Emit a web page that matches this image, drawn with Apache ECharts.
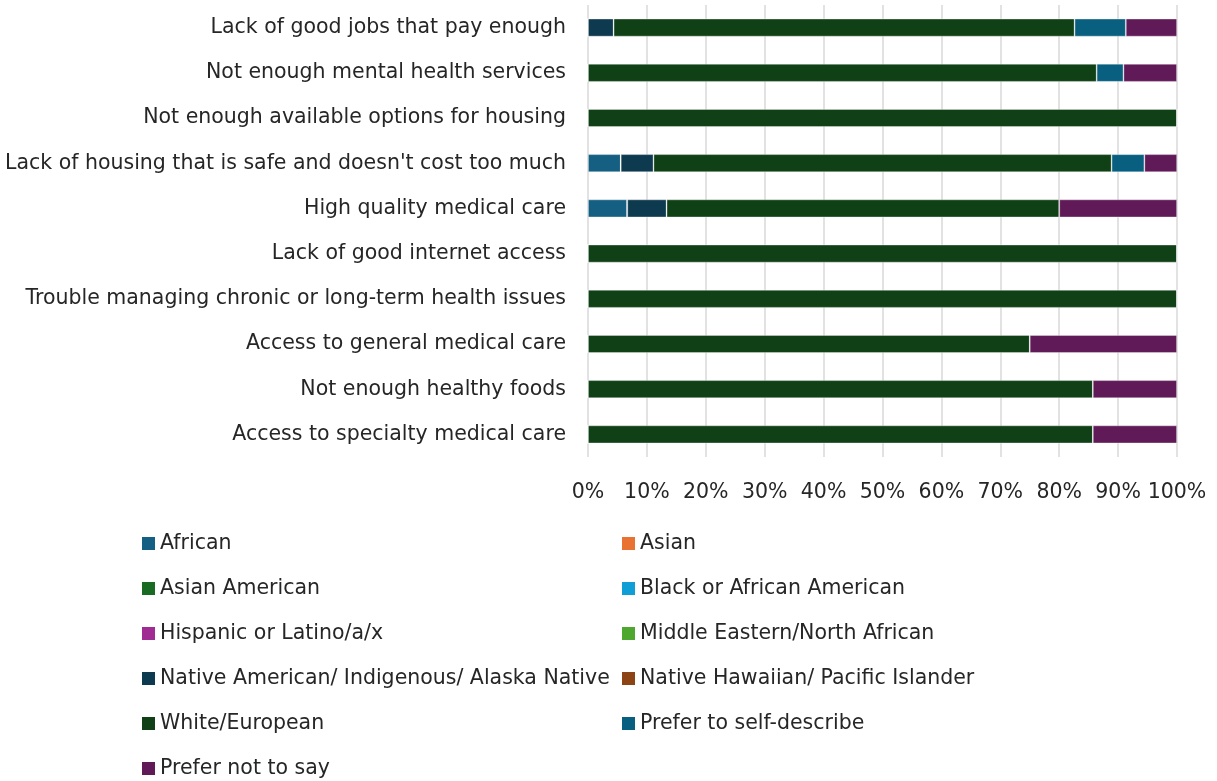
<!DOCTYPE html>
<html>
<head>
<meta charset="utf-8">
<script src="https://cdn.jsdelivr.net/npm/echarts@6/dist/echarts.min.js"></script>
<style>
  html, body { margin: 0; padding: 0; background: #ffffff; }
  #chart { width: 1217px; height: 781px; }
</style>
</head>
<body>
<div id="chart"></div>
<script>
// Issues, top to bottom as shown
const categories = [
  "Lack of good jobs that pay enough",
  "Not enough mental health services",
  "Not enough available options for housing",
  "Lack of housing that is safe and doesn't cost too much",
  "High quality medical care",
  "Lack of good internet access",
  "Trouble managing chronic or long-term health issues",
  "Access to general medical care",
  "Not enough healthy foods",
  "Access to specialty medical care"
];

// Share of respondents (%) per race/ethnicity group, same order as categories
const african            = [0,    0,    0, 5.56, 6.67, 0, 0, 0,  0,     0];
const asian              = [0,    0,    0, 0,    0,    0, 0, 0,  0,     0];
const asianAmerican      = [0,    0,    0, 0,    0,    0, 0, 0,  0,     0];
const blackAfricanAm     = [0,    0,    0, 0,    0,    0, 0, 0,  0,     0];
const hispanicLatino     = [0,    0,    0, 0,    0,    0, 0, 0,  0,     0];
const middleEasternNA    = [0,    0,    0, 0,    0,    0, 0, 0,  0,     0];
const nativeAmerican     = [4.35, 0,    0, 5.56, 6.67, 0, 0, 0,  0,     0];
const nativeHawaiian     = [0,    0,    0, 0,    0,    0, 0, 0,  0,     0];
const whiteEuropean      = [78.26, 86.36, 100, 77.78, 66.67, 100, 100, 75, 85.71, 85.71];
const selfDescribe       = [8.70, 4.55, 0, 5.56, 0,    0, 0, 0,  0,     0];
const preferNotToSay     = [8.70, 9.09, 0, 5.56, 20,   0, 0, 25, 14.29, 14.29];

const xTickLabels = ["0%","10%","20%","30%","40%","50%","60%","70%","80%","90%","100%"];

const groups = [
  { name: "African", data: african, color: "#156082" },
  { name: "Asian", data: asian, color: "#E97132" },
  { name: "Asian American", data: asianAmerican, color: "#196B24" },
  { name: "Black or African American", data: blackAfricanAm, color: "#0F9ED5" },
  { name: "Hispanic or Latino/a/x", data: hispanicLatino, color: "#A02B93" },
  { name: "Middle Eastern/North African", data: middleEasternNA, color: "#4EA72E" },
  { name: "Native American/ Indigenous/ Alaska Native", data: nativeAmerican, color: "#0D3A4E" },
  { name: "Native Hawaiian/ Pacific Islander", data: nativeHawaiian, color: "#8C4414" },
  { name: "White/European", data: whiteEuropean, color: "#0F4016" },
  { name: "Prefer to self-describe", data: selfDescribe, color: "#095F80" },
  { name: "Prefer not to say", data: preferNotToSay, color: "#601A58" }
];

const FONT = "'DejaVu Sans', sans-serif";
const FONT_SIZE = 20.5;
const TEXT = "#262626";

const legendLeft = groups.filter((g, i) => i % 2 === 0).map(g => g.name);
const legendRight = groups.filter((g, i) => i % 2 === 1).map(g => g.name);

const legendBase = {
  orient: "vertical",
  itemWidth: 13,
  itemHeight: 13,
  itemGap: 18,
  itemStyle: { borderWidth: 0 },
  icon: "rect",
  height: 260,
  textStyle: { fontFamily: FONT, fontSize: FONT_SIZE, color: TEXT, lineHeight: 27 },
  selectedMode: false
};

const chart = echarts.init(document.getElementById("chart"), null, { renderer: "canvas" });

chart.setOption({
  animation: false,
  backgroundColor: "#ffffff",
  color: groups.map(g => g.color),
  grid: { left: 588, right: 40, top: 5, height: 452, containLabel: false },
  xAxis: {
    type: "value",
    min: 0,
    max: 100,
    interval: 10,
    axisLine: { show: false },
    axisTick: { show: false },
    splitLine: { show: true, lineStyle: { color: "#d9d9d9", width: 1.5 } },
    axisLabel: {
      margin: 25,
      fontFamily: FONT,
      fontSize: FONT_SIZE,
      color: TEXT,
      formatter: (v) => xTickLabels[Math.round(v / 10)]
    }
  },
  yAxis: {
    type: "category",
    data: categories,
    inverse: true,
    axisLine: { show: false },
    axisTick: { show: false },
    splitLine: { show: false },
    axisLabel: {
      margin: 22,
      padding: [3, 0, 0, 0],
      fontFamily: FONT,
      fontSize: FONT_SIZE,
      color: TEXT
    }
  },
  legend: [
    Object.assign({}, legendBase, { left: 137, top: 525, data: legendLeft }),
    Object.assign({}, legendBase, { left: 617, top: 525, data: legendRight })
  ],
  series: groups.map(g => ({
    name: g.name,
    type: "bar",
    stack: "total",
    barWidth: 18,
    data: g.data,
    itemStyle: { color: g.color, borderColor: "rgba(255,255,255,0.45)", borderWidth: 0.8 }
  }))
});
</script>
</body>
</html>
